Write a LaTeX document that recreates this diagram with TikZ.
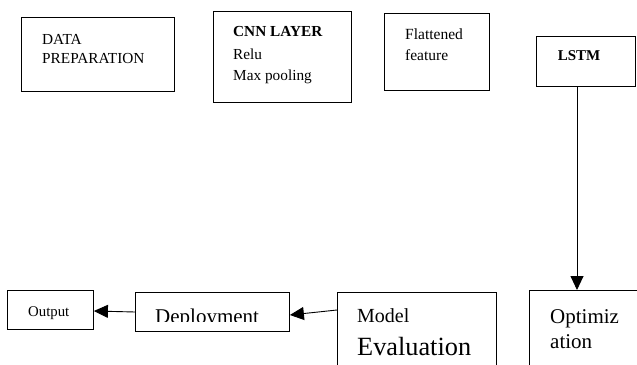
\documentclass[tikz,border=0pt]{standalone}
\usepackage{fontspec}
\setmainfont{Liberation Serif}
\usetikzlibrary{arrows.meta}
\tikzset{
  box/.style={draw, line width=0.9pt, inner sep=0pt, anchor=north west},
  lbl/.style={anchor=base west, inner sep=0pt},
  conn/.style={line width=0.9pt, -{Triangle[length=14pt,width=13pt]}},
}
\newcommand{\fs}[1]{\fontsize{#1}{#1}\selectfont}
\begin{document}
\begin{tikzpicture}[x=1pt,y=-1pt]
\useasboundingbox (0,0) rectangle (637,364);
% boxes
\node[box, minimum width=153pt, minimum height=74pt] (prep) at (21,17) {};
\node[box, minimum width=138pt, minimum height=91pt] (cnn) at (213,11) {};
\node[box, minimum width=105pt, minimum height=77pt] (flat) at (384,13) {};
\node[box, minimum width=99pt, minimum height=50pt] (lstm) at (536,36) {};
\node[box, minimum width=86pt, minimum height=39pt] (out) at (7,290) {};
\node[box, minimum width=154pt, minimum height=39pt] (dep) at (135,292) {};
\node[box, minimum width=159pt, minimum height=80pt] (eval) at (337,292) {};
\node[box, minimum width=116pt, minimum height=80pt] (opt) at (529,290) {};
% texts
\node[lbl] (t1) at (42,44) {\fs{15.3}DATA};
\node[lbl] (t2) at (42,63) {\fs{15.3}PREPARATION};
\node[lbl] (t3) at (233,36.5) {\fs{15.3}\bfseries CNN LAYER};
\node[lbl] (t4) at (233,59.5) {\fs{15.3}Relu};
\node[lbl] (t5) at (233,80) {\fs{15.3}Max pooling};
\node[lbl] (t6) at (405,39) {\fs{15.5}Flattened};
\node[lbl] (t7) at (405,60) {\fs{15.5}feature};
\node[anchor=base, inner sep=0pt] (t8) at (579,60) {\fs{15}\bfseries LSTM};
\node[lbl] (t9) at (28,316) {\fs{14.8}Output};
\begin{scope}
\clip (140,300) rectangle (285,321.5);
\node[lbl] (t10) at (155,323) {\fs{21}Deployment};
\end{scope}
\node[lbl] (t11) at (357,322) {\fs{20}Model};
\node[lbl] (t12) at (357,355) {\fs{26.3}Evaluation};
\node[lbl] (t13) at (550,323) {\fs{21}Optimiz};
\node[lbl] (t14) at (550,348) {\fs{21}ation};
% connectors
\draw[conn] (lstm.south -| 577,0) -- (opt.north -| 577,0);
\draw[conn] (eval.west |- 0,310) -- (dep.east |- 0,315);
\draw[conn] (dep.west |- 0,312) -- (out.east |- 0,311);
\end{tikzpicture}
\end{document}
